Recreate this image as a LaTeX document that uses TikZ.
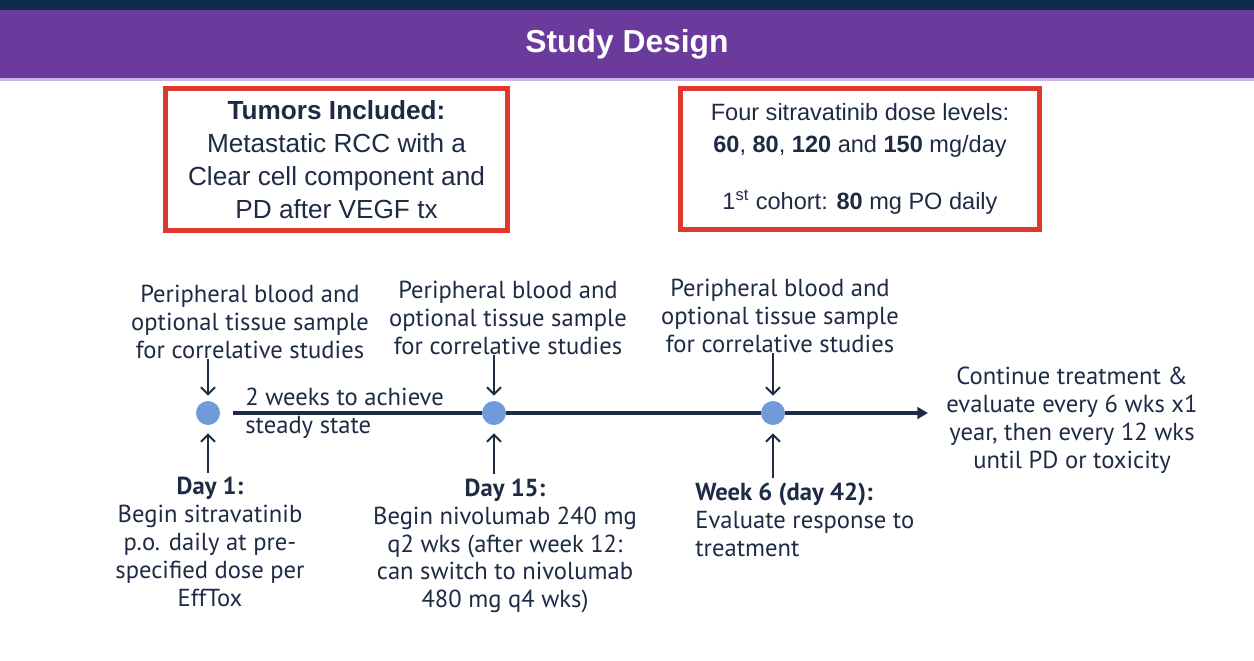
\documentclass[tikz,border=0pt]{standalone}
\usepackage{fontspec}
\setmainfont{Liberation Sans}
\newfontfamily\ptsans{PT Sans}
\usetikzlibrary{arrows.meta}

\definecolor{navy}{HTML}{0E2A4E}
\definecolor{headpurple}{HTML}{6A3A9C}
\definecolor{lavender}{HTML}{C9B8E2}
\definecolor{boxred}{HTML}{E0382C}
\definecolor{ink}{HTML}{1E2B45}
\definecolor{dotblue}{HTML}{6F9BDB}

\tikzset{
  headline/.style={font=\bfseries\fontsize{18.1}{20}\selectfont, text=white},
  redbox/.style={draw=boxred, line width=2.8pt, align=center, text=ink},
  sample/.style={font=\ptsans\fontsize{14}{15.9}\selectfont, text=ink, align=center, inner sep=0pt},
  dot/.style={circle, fill=dotblue, minimum size=0.48cm, inner sep=0pt},
  axis/.style={draw=ink, line width=1.9pt},
  tick/.style={draw=ink, line width=1.1pt, -{Straight Barb[length=4pt,width=8pt]}}
}

\begin{document}
\begin{tikzpicture}

\useasboundingbox (0,0) rectangle (25.08,-13.22);
\fill[white] (0,0) rectangle (25.08,-13.22);

% header
\fill[navy] (0,0) rectangle (25.08,-0.2);
\fill[headpurple] (0,-0.2) rectangle (25.08,-1.56);
\fill[lavender] (0,-1.56) rectangle (25.08,-1.62);
\node[headline] (title) at (12.54,-0.88) {Study Design};

% boxes
\node[redbox, minimum width=6.84cm, minimum height=2.84cm, font=\fontsize{14.9}{18.7}\selectfont] (tumors) at (6.73,-3.19)
  {\textbf{Tumors Included:}\\Metastatic RCC with a\\Clear cell component and\\PD after VEGF tx};
\node[redbox, minimum width=7.18cm, minimum height=2.82cm, font=\fontsize{13.4}{18.1}\selectfont] (dose) at (17.2,-3.18)
  {Four sitravatinib dose levels:\\\textbf{60}, \textbf{80}, \textbf{120} and \textbf{150} mg/day\\[14.7pt]1\textsuperscript{st} cohort: \textbf{80} mg PO daily};

% timeline
\def\lineY{-8.26}
\foreach \n/\x in {1/4.16,2/9.88,3/15.46}
  \node[dot] (dot\n) at (\x,\lineY) {};

\coordinate (tip) at (18.56,\lineY);
\draw[axis] ([xshift=0.26cm]dot1.east) -- (dot2.west);
\draw[axis] (dot2.east) -- (dot3.west);
\draw[axis,-{Triangle[length=6pt,width=6.5pt]}] (dot3.east) -- (tip);

\foreach \n/\x/\y in {1/5.0/-6.44,2/10.16/-6.36,3/15.6/-6.32}
  \node[sample] (blood\n) at (\x,\y) {Peripheral blood and\\optional tissue sample\\for correlative studies};

\node[sample, align=left, anchor=west] (steady) at (4.9,\lineY) {2 weeks to achieve\\steady state};
\node[sample] (cont) at (21.44,-8.4) {Continue treatment \&\\evaluate every 6 wks x1\\year, then every 12 wks\\until PD or toxicity};

\node[sample] (start) at (4.2,-10.84) {\textbf{Day 1:}\\Begin sitravatinib\\p.o. daily at pre-\\specified dose per\\EffTox};
\node[sample] (nivo) at (10.1,-10.92) {\textbf{Day 15:}\\Begin nivolumab 240 mg\\q2 wks (after week 12:\\can switch to nivolumab\\480 mg q4 wks)};
\node[sample, align=left, anchor=west] (evalr) at (13.9,-10.39) {\textbf{Week 6 (day 42):}\\Evaluate response to\\treatment};

% arrows to the dots
\foreach \n in {1,2,3}
  \draw[tick, shorten >=0.1cm] (dot\n |- blood\n.south) -- (dot\n.north);
\foreach \n/\b in {1/start,2/nivo,3/evalr}
  \draw[tick, shorten <=0.08cm, shorten >=0.16cm] (dot\n |- \b.north) -- (dot\n.south);

\end{tikzpicture}
\end{document}
